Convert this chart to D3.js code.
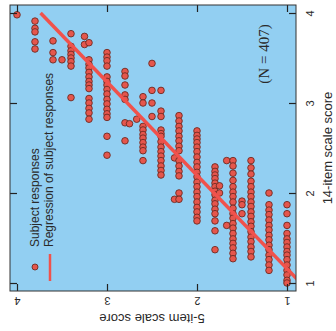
<!DOCTYPE html>
<html>
<head>
<meta charset="utf-8">
<script src="https://cdn.jsdelivr.net/npm/d3@7"></script>
<style>
  html, body { margin: 0; padding: 0; background: #fff; }
  text { font-family: "Liberation Sans", Arial, sans-serif; fill: #2a2a2a; }
</style>
</head>
<body>
<svg id="chart" width="336" height="331"></svg>
<script>
// 5-item score columns and the 14-item scores read in each column
const at400 = [3.98];
const at380 = [3.91, 3.83, 3.79, 3.68, 3.60];
const at360 = [3.69, 3.56, 3.48];
const at350 = [3.48];
const at340 = [3.77, 3.63, 3.58, 3.54, 3.50, 3.46, 3.41, 3.06];
const at325 = [3.74, 3.65];
const at320 = [3.67, 3.48, 3.43, 3.39, 3.34, 3.29, 3.24, 3.20, 3.16, 3.05, 3.00, 2.94, 2.89, 2.82];
const at300 = [3.56, 3.51, 3.47, 3.41, 3.29, 3.24, 3.20, 3.15, 3.10, 3.04, 2.99, 2.93, 2.88, 2.84, 2.63, 2.42];
const at280 = [3.35, 3.30, 3.20, 3.09, 3.04, 2.78, 2.58];
const at275 = [2.77];
const at267 = [2.82];
const at260 = [3.07, 3.00, 2.74, 2.70, 2.65, 2.61, 2.56, 2.51, 2.47, 2.36];
const at250 = [3.44, 3.14, 3.00, 2.85];
const at240 = [3.14, 2.91, 2.85, 2.70, 2.66, 2.63, 2.57, 2.51, 2.46, 2.41, 2.36, 2.30, 2.25, 2.20];
const at225 = [2.39, 1.93];
const at220 = [2.86, 2.80, 2.74, 2.69, 2.63, 2.58, 2.52, 2.47, 2.36, 2.30, 2.24, 2.19, 2.00, 1.93];
const at200 = [2.69, 2.64, 2.60, 2.56, 2.51, 2.46, 2.40, 2.34, 2.29, 2.23, 2.18, 2.12, 2.07, 2.01, 1.96, 1.90, 1.84, 1.79, 1.73, 1.69];
const at180 = [2.29, 2.24, 2.20, 2.16, 2.11, 2.07, 2.02, 1.98, 1.92, 1.88, 1.82, 1.77, 1.69, 1.58, 1.37];
const at175 = [2.08, 2.00];
const at167 = [2.36, 1.64];
const at160 = [2.36, 2.30, 2.22, 2.14, 2.07, 2.01, 1.96, 1.90, 1.83, 1.77, 1.72, 1.66, 1.61, 1.55, 1.49, 1.44, 1.39, 1.33, 1.27];
const at150 = [1.91, 1.87, 1.77];
const at140 = [2.36, 2.28, 2.21, 2.13, 2.07, 2.01, 1.96, 1.90, 1.85, 1.79, 1.74, 1.68, 1.63, 1.57, 1.51, 1.46, 1.40, 1.35, 1.29];
const at120 = [2.00, 1.87, 1.81, 1.76, 1.70, 1.64, 1.59, 1.53, 1.48, 1.42, 1.37, 1.31, 1.26, 1.20, 1.14];
const at100 = [1.87, 1.77, 1.64, 1.55, 1.49, 1.45, 1.40, 1.35, 1.31, 1.26, 1.20, 1.14, 1.09, 1.03, 1.00];

const fiveLevels = [4.0, 3.8, 3.6, 3.5, 3.4, 3.25, 3.2, 3.0, 2.8, 2.75, 2.67, 2.6, 2.5, 2.4,
  2.25, 2.2, 2.0, 1.8, 1.75, 1.67, 1.6, 1.5, 1.4, 1.2, 1.0];
const fourteenCols = [at400, at380, at360, at350, at340, at325, at320, at300, at280, at275, at267,
  at260, at250, at240, at225, at220, at200, at180, at175, at167, at160, at150, at140, at120, at100];

// regression of 5-item on 14-item score
const regIntercept = -0.118;
const regSlope = 0.964;
const regRange = [1, 4];

const tickVals = [1, 2, 3, 4];
const legendLabels = ["Subject responses", "Regression of subject responses"];
const noteText = "(N = 407)";

const points = [];
fiveLevels.forEach((v, i) => fourteenCols[i].forEach(u => points.push({ five: v, fourteen: u })));

const svg = d3.select("#chart");
const pL = 10, pR = 296, pT = 5, pB = 291;

// screen x = 5-item score (reversed), screen y = 14-item score
const x = d3.scaleLinear().domain([4 + 7 / 90, 1 - 9 / 90]).range([pL, pR]);
const y = d3.scaleLinear().domain([1 - 8 / 90, 4 + 8 / 90]).range([pB, pT]);

svg.append("defs").append("clipPath").attr("id", "plotclip")
  .append("rect").attr("x", pL).attr("y", pT).attr("width", pR - pL).attr("height", pB - pT);

svg.append("rect")
  .attr("x", pL).attr("y", pT)
  .attr("width", pR - pL).attr("height", pB - pT)
  .attr("fill", "#92cff2");

const plot = svg.append("g").attr("clip-path", "url(#plotclip)");

plot.selectAll("circle.pt")
  .data(points)
  .enter()
  .append("circle")
  .attr("class", "pt")
  .attr("cx", d => x(d.five))
  .attr("cy", d => y(d.fourteen))
  .attr("r", 3.3)
  .attr("fill", "#e5564c")
  .attr("stroke", "#6e2a22")
  .attr("stroke-width", 0.9);

const line = d3.line()
  .x(u => x(regIntercept + regSlope * u))
  .y(u => y(u));

plot.append("path")
  .datum(regRange)
  .attr("d", line)
  .attr("fill", "none")
  .attr("stroke", "#f0524c")
  .attr("stroke-width", 3.5);

// axes with inward ticks on all four sides
const axB = svg.append("g").attr("transform", "translate(0," + pB + ")")
  .call(d3.axisBottom(x).tickValues(tickVals).tickSizeInner(-7).tickSizeOuter(0).tickFormat(d3.format("d")));
axB.selectAll("text")
  .attr("y", 0).attr("dy", "0.35em")
  .attr("transform", "translate(0,10) rotate(180)")
  .style("font-size", "11px");

const axT = svg.append("g").attr("transform", "translate(0," + pT + ")")
  .call(d3.axisTop(x).tickValues(tickVals).tickSizeInner(-7).tickSizeOuter(0).tickFormat(""));

const axR = svg.append("g").attr("transform", "translate(" + pR + ",0)")
  .call(d3.axisRight(y).tickValues(tickVals).tickSizeInner(-7).tickSizeOuter(0).tickFormat(d3.format("d")));
axR.selectAll("text")
  .attr("x", 0).attr("dy", "0.35em")
  .attr("text-anchor", "middle")
  .attr("transform", "translate(14,0) rotate(-90)")
  .style("font-size", "11px");

const axL = svg.append("g").attr("transform", "translate(" + pL + ",0)")
  .call(d3.axisLeft(y).tickValues(tickVals).tickSizeInner(-7).tickSizeOuter(0).tickFormat(""));

[axB, axT, axR, axL].forEach(a => {
  a.select(".domain").remove();
  a.selectAll("line").attr("stroke", "#222").attr("stroke-width", 1.2);
});

svg.append("rect")
  .attr("x", pL).attr("y", pT)
  .attr("width", pR - pL).attr("height", pB - pT)
  .attr("fill", "none").attr("stroke", "#333").attr("stroke-width", 1);

// axis titles
svg.append("text")
  .attr("transform", "translate(152,319) rotate(180)")
  .attr("text-anchor", "middle").attr("dy", "0.35em")
  .style("font-size", "13px")
  .text("5-item scale score");

svg.append("text")
  .attr("transform", "translate(327,148) rotate(-90)")
  .attr("text-anchor", "middle").attr("dy", "0.35em")
  .style("font-size", "13px")
  .text("14-item scale score");

// legend
svg.append("circle").attr("cx", 35).attr("cy", 267).attr("r", 3)
  .attr("fill", "#e5564c").attr("stroke", "#6e2a22").attr("stroke-width", 0.9);
svg.append("line").attr("x1", 50).attr("x2", 50).attr("y1", 254).attr("y2", 281)
  .attr("stroke", "#f0524c").attr("stroke-width", 2.5);

svg.selectAll("text.leg")
  .data(legendLabels)
  .enter()
  .append("text")
  .attr("class", "leg")
  .attr("transform", (d, i) => "translate(" + (39 + i * 14) + ",247) rotate(-90)")
  .style("font-size", "12px")
  .text(d => d);

svg.append("text")
  .attr("transform", "translate(269,54) rotate(-90)")
  .attr("text-anchor", "middle")
  .style("font-family", "'Liberation Serif', 'Times New Roman', serif")
  .style("font-size", "15px")
  .text(noteText);
</script>
</body>
</html>
